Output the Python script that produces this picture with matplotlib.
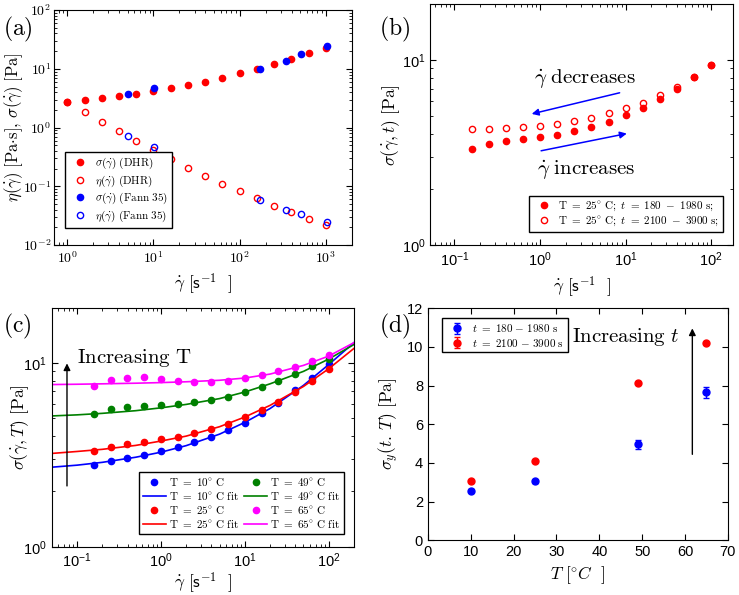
import numpy as np
import matplotlib
matplotlib.use('Agg')
import matplotlib.pyplot as plt
from matplotlib.ticker import FuncFormatter, LogLocator, NullFormatter

plt.rcParams['font.family'] = ['Liberation Sans', 'DejaVu Sans']
plt.rcParams['mathtext.fontset'] = 'cm'
plt.rcParams['axes.linewidth'] = 0.8
plt.rcParams['xtick.direction'] = 'in'
plt.rcParams['ytick.direction'] = 'in'

# ---- panel (a): flow curves, DHR vs Fann 35 ----
rate_dhr = [1, 1.585, 2.512, 3.981, 6.31, 10, 15.85, 25.12, 39.81, 63.1,
            100, 158.5, 251.2, 398.1, 631, 1000]
sigma_dhr = [2.75, 2.94, 3.14, 3.44, 3.67, 4.24, 4.64, 5.29, 6.03, 6.87,
             8.36, 9.78, 11.9, 14.5, 18.3, 22.3]
eta_dhr = [2.75, 1.86, 1.26, 0.87, 0.60, 0.414, 0.287, 0.207, 0.151, 0.111,
           0.083, 0.0622, 0.0467, 0.0365, 0.0284, 0.0219]
rate_fann = [5.11, 10.2, 170, 340.6, 511, 1022]
sigma_fann = [3.67, 4.77, 9.91, 13.5, 17.6, 24.7]
eta_fann = [0.717, 0.472, 0.0583, 0.0394, 0.0333, 0.0243]

# ---- panel (b): thixotropy loop at 25 C ----
rate_b = [0.1585, 0.2512, 0.3981, 0.631, 1, 1.585, 2.512, 3.981, 6.31, 10,
          15.85, 25.12, 39.81, 63.1, 100]
sigma_early = [3.30, 3.52, 3.64, 3.74, 3.84, 3.95, 4.12, 4.35, 4.63, 5.07,
               5.51, 6.17, 6.99, 8.12, 9.35]
sigma_late = [4.24, 4.26, 4.29, 4.33, 4.42, 4.53, 4.69, 4.87, 5.14, 5.47,
              5.87, 6.46, 7.17, 8.12, 9.35]

# ---- panel (c): temperature series with fits ----
rate_c = rate_b
sig_10 = [2.77, 2.94, 3.06, 3.16, 3.34, 3.51, 3.72, 3.97, 4.32, 4.73,
          5.32, 6.02, 7.11, 8.30, 9.92]
sig_25 = [3.30, 3.51, 3.63, 3.73, 3.85, 3.94, 4.14, 4.35, 4.65, 5.06,
          5.54, 6.15, 6.91, 7.96, 9.24]
sig_49 = [5.27, 5.61, 5.73, 5.82, 5.90, 5.97, 6.10, 6.28, 6.54, 6.91,
          7.41, 7.96, 8.68, 9.59, 10.5]
sig_65 = [7.47, 8.06, 8.33, 8.40, 8.13, 7.99, 7.89, 7.89, 7.96, 8.29,
          8.65, 9.01, 9.51, 10.25, 11.0]
rate_fit = [0.05, 0.1, 0.2, 0.5, 1, 2, 5, 10, 20, 50, 100, 200]
fit_10 = [2.71, 2.78, 2.88, 3.07, 3.27, 3.55, 4.10, 4.75, 5.65, 7.55, 9.8, 12.9]
fit_25 = [3.22, 3.30, 3.39, 3.56, 3.76, 4.00, 4.50, 5.08, 5.88, 7.45, 9.3, 12.0]
fit_49 = [5.15, 5.22, 5.32, 5.50, 5.70, 5.95, 6.40, 6.95, 7.70, 9.00, 10.5, 12.6]
fit_65 = [7.63, 7.66, 7.70, 7.76, 7.82, 7.90, 8.05, 8.28, 8.70, 9.7, 10.9, 12.9]

# ---- panel (d): yield stress vs temperature ----
temps = [10, 25, 49, 65]
sy_early = [2.56, 3.06, 4.96, 7.66]
sy_early_err = [0.08, 0.08, 0.25, 0.28]
sy_late = [3.08, 4.10, 8.11, 10.2]
sy_late_err = [0.05, 0.05, 0.05, 0.05]

RED = '#ff0000'
BLUE = '#0000ff'
GREEN = '#008000'
MAG = '#ff00ff'
ms = 4.5
leg_kw = dict(fancybox=False, edgecolor='k', framealpha=1, fontsize=8,
              borderpad=0.35, handletextpad=0.3, labelspacing=0.2)


def fmt_cm(v, pos):
    return r'$10^{%d}$' % round(np.log10(v))


def fmt_sans(v, pos):
    return r'$\mathdefault{10^{%d}}$' % round(np.log10(v))


def style_log(ax, fmt, size=10.5, pad=3.5):
    ax.set_xscale('log')
    ax.set_yscale('log')
    ax.tick_params(which='both', top=True, right=True, labelsize=size, length=4)
    ax.tick_params(axis='y', pad=pad)
    ax.tick_params(which='minor', length=2)
    for axis in (ax.xaxis, ax.yaxis):
        axis.set_major_locator(LogLocator(base=10))
        axis.set_minor_locator(LogLocator(base=10, subs=np.arange(2, 10)))
        axis.set_major_formatter(FuncFormatter(fmt))
        axis.set_minor_formatter(NullFormatter())


fig = plt.figure(figsize=(7.39, 5.95), dpi=100)
ax_a = fig.add_axes([0.073, 0.588, 0.403, 0.395])
ax_b = fig.add_axes([0.582, 0.588, 0.410, 0.405])
ax_c = fig.add_axes([0.070, 0.081, 0.409, 0.402])
ax_d = fig.add_axes([0.579, 0.092, 0.406, 0.390])

xlab = r'$\dot{\gamma}\ [\mathsf{s}^{-1}\ \ ]$'
lab_fs = 12.5

# (a)
ax_a.plot(rate_dhr, sigma_dhr, 'o', color=RED, ms=ms, label=r'$\sigma(\dot{\gamma})\ \mathrm{(DHR)}$')
ax_a.plot(rate_dhr, eta_dhr, 'o', mfc='none', mec=RED, ms=ms, label=r'$\eta(\dot{\gamma})\ \mathrm{(DHR)}$')
ax_a.plot(rate_fann, sigma_fann, 'o', color=BLUE, ms=ms, label=r'$\sigma(\dot{\gamma})\ \mathrm{(Fann\ 35)}$')
ax_a.plot(rate_fann, eta_fann, 'o', mfc='none', mec=BLUE, ms=ms, label=r'$\eta(\dot{\gamma})\ \mathrm{(Fann\ 35)}$')
style_log(ax_a, fmt_cm, size=10, pad=2)
ax_a.set_xlim(0.7, 2000)
ax_a.set_ylim(1e-2, 1e2)
ax_a.set_xlabel(xlab, fontsize=lab_fs, labelpad=4)
ax_a.set_ylabel(r'$\eta(\dot{\gamma})\ [\mathrm{Pa{\cdot}s}],\,\sigma(\dot{\gamma})\ [\mathrm{Pa}]$',
                fontsize=12)
ax_a.yaxis.set_label_coords(-0.098, 0.5)
ax_a.legend(loc='lower left', bbox_to_anchor=(0.02, 0.05), **leg_kw)

# (b)
ax_b.plot(rate_b, sigma_early, 'o', color=RED, ms=ms,
          label=r'$\mathrm{T}\ =\ 25^{\circ}\ \mathrm{C};\ t\ =\ 180\ -\ 1980\ \mathrm{s;}$')
ax_b.plot(rate_b, sigma_late, 'o', mfc='none', mec=RED, ms=ms,
          label=r'$\mathrm{T}\ =\ 25^{\circ}\ \mathrm{C};\ t\ =\ 2100\ -\ 3900\ \mathrm{s;}$')
style_log(ax_b, fmt_sans)
ax_b.set_xlim(0.052, 180)
ax_b.set_ylim(1, 20)
ax_b.set_xlabel(xlab, fontsize=lab_fs, labelpad=4)
ax_b.set_ylabel(r'$\sigma(\dot{\gamma},t)\ [\mathrm{Pa}]$', fontsize=lab_fs, labelpad=0)
ax_b.legend(loc='lower right', bbox_to_anchor=(0.985, 0.03), **leg_kw)
ax_b.annotate('', xy=(0.744, 5.07), xytext=(9.15, 6.70),
              arrowprops=dict(arrowstyle='-|>', color=BLUE, lw=1.1, mutation_scale=10))
ax_b.annotate('', xy=(11.1, 4.03), xytext=(0.957, 3.21),
              arrowprops=dict(arrowstyle='-|>', color=BLUE, lw=1.1, mutation_scale=10))
ax_b.text(0.85, 7.95, r'$\dot{\gamma}\ \mathrm{decreases}$', fontsize=15, va='center')
ax_b.text(0.93, 2.57, r'$\dot{\gamma}\ \mathrm{increases}$', fontsize=15, va='center')

# (c)
series_c = [(sig_10, fit_10, BLUE, '10'), (sig_25, fit_25, RED, '25'),
            (sig_49, fit_49, GREEN, '49'), (sig_65, fit_65, MAG, '65')]
for pts, fit, col, lab in series_c:
    ax_c.plot(rate_c, pts, 'o', color=col, ms=ms,
              label=r'$\mathrm{T}\ =\ %s^{\circ}\ \mathrm{C}$' % lab)
    ax_c.plot(rate_fit, fit, '-', color=col, lw=1.2,
              label=r'$\mathrm{T}\ =\ %s^{\circ}\ \mathrm{C\ fit}$' % lab)
style_log(ax_c, fmt_sans)
ax_c.set_xlim(0.05, 200)
ax_c.set_ylim(1, 20)
ax_c.set_xlabel(xlab, fontsize=lab_fs, labelpad=0)
ax_c.set_ylabel(r'$\sigma(\dot{\gamma},T)\ [\mathrm{Pa}]$', fontsize=lab_fs)
ax_c.yaxis.set_label_coords(-0.07, 0.5)
ax_c.legend(loc='lower right', bbox_to_anchor=(0.985, 0.03), ncol=2,
            columnspacing=0.5, handlelength=2.0, **leg_kw)
ax_c.annotate('', xy=(0.076, 10.3), xytext=(0.076, 2.07),
              arrowprops=dict(arrowstyle='-|>', color='k', lw=1.0, mutation_scale=10))
ax_c.text(0.1, 10.6, r'$\mathrm{Increasing\ T}$', fontsize=15, va='center')

# (d)
ax_d.errorbar(temps, sy_early, yerr=sy_early_err, fmt='o', color=BLUE, ms=ms + 0.5,
              capsize=2, elinewidth=1, label=r'$t\ =\ 180\ \mathrm{-}\ 1980\ \mathrm{s}$')
ax_d.errorbar(temps, sy_late, yerr=sy_late_err, fmt='o', color=RED, ms=ms + 0.5,
              capsize=2, elinewidth=1, label=r'$t\ =\ 2100\ \mathrm{-}\ 3900\ \mathrm{s}$')
ax_d.set_xlim(0, 70)
ax_d.set_ylim(0, 12)
ax_d.set_xticks(range(0, 71, 10))
ax_d.set_yticks(range(0, 13, 2))
ax_d.tick_params(top=True, right=True, labelsize=10.5, length=4)
ax_d.set_xlabel(r'$T\ [^{\circ}C\ \ ]$', fontsize=lab_fs, labelpad=4)
ax_d.set_ylabel(r'$\sigma_y(t.\,T)\ [\mathrm{Pa}]$', fontsize=lab_fs, labelpad=4)
ax_d.legend(loc='upper left', bbox_to_anchor=(0.03, 0.98), **leg_kw)
ax_d.annotate('', xy=(61.7, 11.1), xytext=(61.7, 4.3),
              arrowprops=dict(arrowstyle='-|>', color='k', lw=1.0, mutation_scale=10))
ax_d.text(58.5, 10.5, r'$\mathrm{Increasing}\ t$', fontsize=15, va='center', ha='right')

# panel letters
for lab, x, y in [('(a)', 0.004, 0.975), ('(b)', 0.513, 0.975),
                  ('(c)', 0.004, 0.475), ('(d)', 0.513, 0.475)]:
    fig.text(x, y, r'$\mathrm{%s}$' % lab, fontsize=17, va='top', ha='left')

fig.savefig('out.png', dpi=100)
